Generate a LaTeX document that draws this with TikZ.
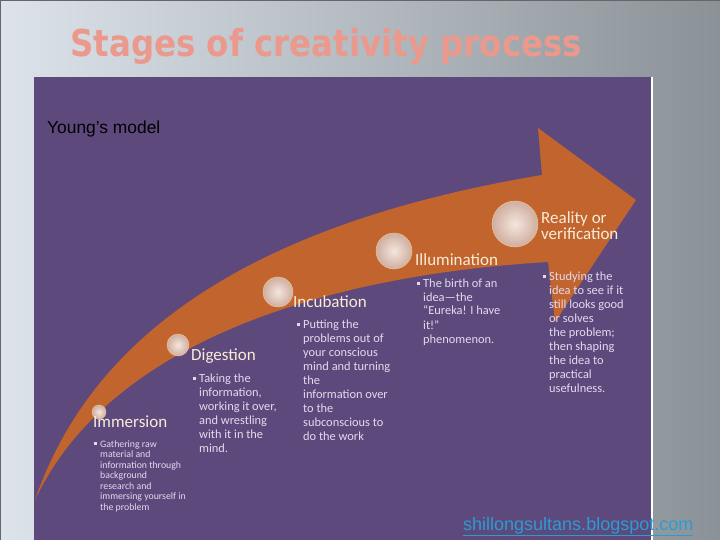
\documentclass[tikz,border=0pt]{standalone}
\usepackage{fontspec}
\usepackage{graphicx}
\setmainfont{Carlito}
\newfontfamily\arialfont{Liberation Sans}
\newfontfamily\titlefont{DejaVu Sans}
\usetikzlibrary{positioning, shadings}
\definecolor{bglight}{HTML}{DDE3EA}
\definecolor{bgdark}{HTML}{8A9298}
\definecolor{slidepurple}{HTML}{5E497C}
\definecolor{arroworange}{HTML}{C2642D}
\definecolor{titlesalmon}{HTML}{EC998D}
\definecolor{headcream}{HTML}{F8ECD8}
\definecolor{textlilac}{HTML}{E2DAEE}
\definecolor{pearlin}{HTML}{F4E6DE}
\definecolor{pearlout}{HTML}{CFAE9F}
\definecolor{linkblue}{HTML}{2A9CD3}
\newcommand{\sqmark}{\makebox[6pt][l]{\raisebox{2.3pt}{\rule{2.4pt}{2.4pt}}}}
\newcommand{\bullist}[1]{\sqmark\begin{tabular}[t]{@{}l@{}}#1\end{tabular}}
\tikzset{
  stage/.style={anchor=base west,inner sep=0pt,text=headcream,font=\fontsize{17}{17}\selectfont},
  stagetext/.style={anchor=base west,inner sep=0pt,text=textlilac,font=\fontsize{12.4}{14}\selectfont},
  stagetext_s/.style={stagetext,font=\fontsize{9.8}{10.5}\selectfont},
  pearl/.style={circle,inner sep=0pt,draw=pearlin!70!orange,thin,shading=radial,inner color=pearlin,outer color=pearlout},
}

\begin{document}
\begin{tikzpicture}[x=1pt,y=-1pt]
	    \useasboundingbox (0,0) rectangle (720,540);
	    \shade[left color=bglight,right color=bgdark] (0,0) rectangle (720,540);
	    \draw[black!60,line width=1.5pt] (0,540) -- (0,0) -- (720,0);
	    \fill[slidepurple] (34,77) rectangle (651,540);
	    \draw[white,line width=1.5pt] (652,77) -- (652,540);
	    % title and captions
	    \node[anchor=base west,inner sep=0pt,text=titlesalmon,font=\titlefont\bfseries\fontsize{37}{37}\selectfont] (title) at (70,57)
	    	{\resizebox{512pt}{\height}{Stages of creativity process}};
	    \node[anchor=base west,inner sep=0pt,font=\arialfont\fontsize{17.4}{17.4}\selectfont] (model) at (47,134) {Young’s model};
	    % the big arrow
	    \fill[arroworange] (35,500) .. controls (80,370) and (200,232) .. (542,175) -- (538,128) -- (636,200)
	    	-- (555,322) -- (548,262) .. controls (330,275) and (110,340) .. cycle;
	    % pearls on the arrow
	    \node[pearl,minimum size=14pt] (p1) at (99,412) {};
	    \node[pearl,minimum size=22pt] (p2) at (178,345) {};
	    \node[pearl,minimum size=30pt] (p3) at (278,292) {};
	    \node[pearl,minimum size=36pt] (p4) at (394,251) {};
	    \node[pearl,minimum size=46pt] (p5) at (515,224) {};
	    % stages
	    \node[stage] (imm) at (93,427) {Immersion};
	    \node[stage] (dig) at (191,360) {Digestion};
	    \node[stage] (inc) at (293,307) {Incubation};
	    \node[stage] (ill) at (415,265) {Illumination};
	    \node[stage,align=left] (rea) at (541,240) {Reality or\\[-1pt]verification};
	    \node[stagetext_s] (immtext) at (94,447) {\bullist{Gathering raw\\material and\\information through\\background\\research and\\immersing yourself in\\the problem}};
	    \node[stagetext] (digtext) at (193,382) {\bullist{Taking the\\information,\\working it over,\\and wrestling\\with it in the\\mind.}};
	    \node[stagetext] (inctext) at (297,328) {\bullist{Putting the\\problems out of\\your conscious\\mind and turning\\the\\information over\\to the\\subconscious to\\do the work}};
	    \node[stagetext] (illtext) at (417,287) {\bullist{The birth of an\\idea—the\\“Eureka! I have\\it!”\\phenomenon.}};
	    \node[stagetext] (reatext) at (543,280) {\bullist{Studying the\\idea to see if it\\still looks good\\or solves\\the problem;\\then shaping\\the idea to\\practical\\usefulness.}};
	    \node[anchor=base west,inner sep=0pt,text=linkblue,font=\arialfont\fontsize{18}{18}\selectfont] (link) at (463,530)
	    	{\underline{shillongsultans.blogspot.com}};
\end{tikzpicture}
\end{document}
